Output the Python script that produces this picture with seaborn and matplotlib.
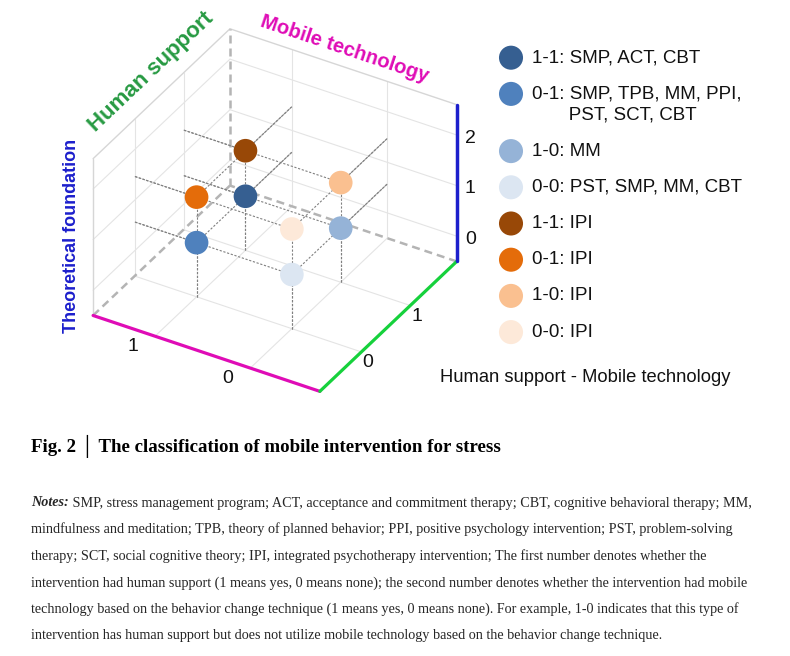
import matplotlib
matplotlib.use("Agg")
import matplotlib.pyplot as plt
import seaborn as sns

# first digit = human support, second digit = mobile technology
labels = [
    "1-1: SMP, ACT, CBT",
    "0-1: SMP, TPB, MM, PPI,\n       PST, SCT, CBT",
    "1-0: MM",
    "0-0: PST, SMP, MM, CBT",
    "1-1: IPI",
    "0-1: IPI",
    "1-0: IPI",
    "0-0: IPI",
]
human_support = [1, 0, 1, 0, 1, 0, 1, 0]
mobile_tech = [1, 1, 0, 0, 1, 1, 0, 0]
theory = [0.57, 0.57, 0.57, 0.57, 1.47, 1.47, 1.47, 1.47]
colors = ["#365f91", "#4f81bd", "#95b3d7", "#dce6f2",
          "#984807", "#e46c0a", "#fac090", "#fde9d9"]

hs_ticks = [0, 1]
mt_ticks = [0, 1]
tf_ticks = [0, 1, 2]
hs_lim = (-0.85, 1.95)
mt_lim = (-0.73, 1.65)
tf_lim = (-0.5, 2.6)

caption = "Fig. 2 \u2502 The classification of mobile intervention for stress"
notes_lines = [
    "SMP, stress management program; ACT, acceptance and commitment therapy; CBT, cognitive behavioral therapy; MM,",
    "mindfulness and meditation; TPB, theory of planned behavior; PPI, positive psychology intervention; PST, problem-solving",
    "therapy; SCT, social cognitive theory; IPI, integrated psychotherapy intervention; The first number denotes whether the",
    "intervention had human support (1 means yes, 0 means none); the second number denotes whether the intervention had mobile",
    "technology based on the behavior change technique (1 means yes, 0 means none). For example, 1-0 indicates that this type of",
    "intervention has human support but does not utilize mobile technology based on the behavior change technique.",
]

BLUE = "#1c1fcc"
MAGENTA = "#df0cb6"
GREEN = "#16d13c"
GREEN_TXT = "#279a42"

sns.set_theme(style="white")
plt.rcParams["font.family"] = ["Liberation Sans", "DejaVu Sans"]

fig = plt.figure(figsize=(7.9, 6.56), dpi=100)

# ---- 3D panel
ax = fig.add_axes([0.0711, 0.3463, 0.5392, 0.6494], projection="3d",
                  proj_type="ortho", computed_zorder=False)
ax.set_xlim(*hs_lim)
ax.set_ylim(*mt_lim)
ax.set_zlim(*tf_lim)
ax.set_box_aspect((268.4, 264.0, 190.0), zoom=0.96)
ax.view_init(elev=34.3, azim=-149.3)
ax.set_axis_off()

x0, x1 = hs_lim
y0, y1 = mt_lim
z0, z1 = tf_lim

# faint grid on floor and back walls
grid_kw = dict(color="#e4e4e4", lw=0.8, zorder=1)
for h in hs_ticks:
    ax.plot([h, h], [y0, y1], [z0, z0], **grid_kw)
    ax.plot([h, h], [y1, y1], [z0, z1], **grid_kw)
for m in mt_ticks:
    ax.plot([x0, x1], [m, m], [z0, z0], **grid_kw)
    ax.plot([x1, x1], [m, m], [z0, z1], **grid_kw)
for t in tf_ticks:
    ax.plot([x0, x1], [y1, y1], [t, t], **grid_kw)
    ax.plot([x1, x1], [y0, y1], [t, t], **grid_kw)

# box outline
edge_kw = dict(color="#d6d6d6", lw=1.0, zorder=2)
ax.plot([x0, x0], [y1, y1], [z0, z1], **edge_kw)
ax.plot([x0, x1], [y1, y1], [z1, z1], **edge_kw)
ax.plot([x1, x1], [y1, y0], [z1, z1], **edge_kw)
dash_kw = dict(color="#b4b4b4", lw=1.8, ls=(0, (3.2, 2.0)), zorder=2)
ax.plot([x1, x1], [y1, y1], [z0, z1], **dash_kw)
ax.plot([x0, x1], [y1, y1], [z0, z0], **dash_kw)
ax.plot([x1, x1], [y0, y1], [z0, z0], **dash_kw)
ax.plot([x0, x0], [y0, y1], [z0, z0], color=MAGENTA, lw=2.3, zorder=4)
ax.plot([x0, x1], [y0, y0], [z0, z0], color=GREEN, lw=2.3, zorder=4)
ax.plot([x1, x1], [y0, y0], [z0, z1], color=BLUE, lw=2.5, zorder=4)

# guide lines from each point to floor and back walls
guide_kw = dict(color="#808080", lw=0.8, ls=(0, (2, 1.5)), zorder=3)
for h, m, t in zip(human_support, mobile_tech, theory):
    ax.plot([h, h], [m, m], [z0, t], **guide_kw)
    ax.plot([h, h], [m, y1], [t, t], **guide_kw)
    ax.plot([h, x1], [m, m], [t, t], **guide_kw)

ax.scatter(human_support, mobile_tech, theory, c=colors, s=290,
           depthshade=False, edgecolors="none", alpha=1, zorder=5)

# tick labels
tick_kw = dict(fontsize=14, color="#111111", ha="center", va="center", zorder=6)
for m in mt_ticks:
    ax.text(x0 - 0.22, m + 0.12, z0 - 0.08, str(m), **tick_kw)
for h in hs_ticks:
    ax.text(h, y0 - 0.07, z0 - 0.17, str(h), **tick_kw)
for t in tf_ticks:
    ax.text(x1 + 0.07, y0 - 0.107, t - 0.06, str(t), **tick_kw)

# axis titles
ax.text(x0 - 0.11, y1 + 0.17, 1.06, "Theoretical foundation", zdir="z",
        color=BLUE, fontsize=13, fontweight="bold", ha="center", va="center")
ax.text((x0 + x1) / 2, y1 + 0.11, z1 + 0.36, "Human support", zdir="x",
        color=GREEN_TXT, fontsize=16, fontweight="bold", ha="center", va="center")
ax.text(x1 + 0.03, (y0 + y1) / 2, z1 + 0.33, "Mobile technology", zdir=(0, -1, 0),
        color=MAGENTA, fontsize=14.5, fontweight="bold", ha="center", va="center")

# ---- overlay for legend and caption (pixel-like coordinates)
ov = fig.add_axes([0, 0, 1, 1])
ov.set_axis_off()
ov.patch.set_alpha(0)

row_pitch, line_pitch = 36.2, 21.0
row_y = []
y = 57.7
for lab in labels:
    row_y.append(y)
    y += row_pitch + (lab.count("\n")) * line_pitch

sns.scatterplot(x=[511] * len(labels), y=row_y, hue=labels, hue_order=labels,
                palette=colors, s=300, edgecolor="none", legend=False, ax=ov)
ov.set_xlim(0, 790)
ov.set_ylim(656, 0)
for lab, yy in zip(labels, row_y):
    for j, line in enumerate(lab.split("\n")):
        ov.text(532, yy + j * line_pitch, line, fontsize=13.5, color="#111111",
                ha="left", va="center")

ov.text(440, 378, "Human support - Mobile technology", fontsize=13.2,
        color="#111111", ha="left", va="center")

serif = ["Liberation Serif", "DejaVu Serif"]
ov.text(31, 446, caption, family=["Liberation Serif", "DejaVu Sans"],
        fontsize=13.6, fontweight="bold", color="black", ha="left", va="center")

notes_y, notes_pitch = 503, 26.6
notes_head = ov.text(31, notes_y, "Notes:", family=serif, fontsize=10.15,
                     fontweight="bold", style="italic", ha="left", va="center")
ov.annotate(" " + notes_lines[0], xy=(1, 0), xycoords=notes_head,
            family=serif, fontsize=10.15, ha="left", va="bottom")
for k, line in enumerate(notes_lines[1:], start=1):
    ov.text(31, notes_y + notes_pitch * k, line, family=serif, fontsize=10.15,
            ha="left", va="center")

fig.savefig("out.png", dpi=100)
